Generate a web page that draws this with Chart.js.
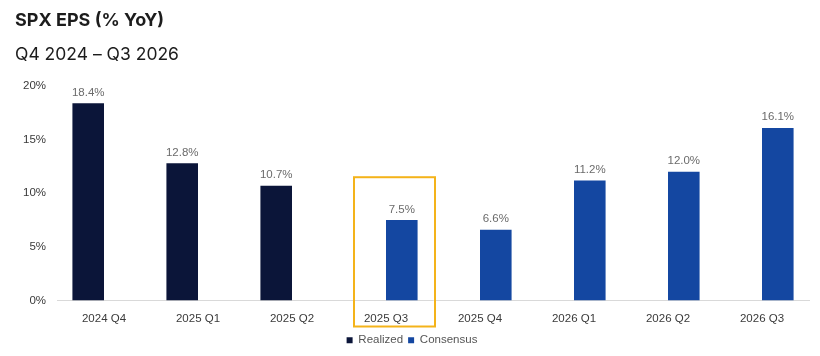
<!DOCTYPE html>
<html>
<head>
<meta charset="utf-8">
<script src="https://cdn.jsdelivr.net/npm/chart.js@4.4.1/dist/chart.umd.min.js"></script>
<style>
  html, body { margin: 0; padding: 0; background: #ffffff; }
  #wrap { width: 820px; height: 356px; position: relative; }
</style>
</head>
<body>
<div id="wrap"><canvas id="c" width="820" height="356"></canvas></div>
<script>
const titleText = 'SPX EPS (% YoY)';
const subtitleText = 'Q4 2024 – Q3 2026';
const categories = ['2024 Q4', '2025 Q1', '2025 Q2', '2025 Q3', '2025 Q4', '2026 Q1', '2026 Q2', '2026 Q3'];
const realized = [18.4, 12.8, 10.7, null, null, null, null, null];
const consensus = [null, null, null, 7.5, 6.6, 11.2, 12.0, 16.1];
const seriesNames = ['Realized', 'Consensus'];
const yMin = 0, yMax = 20, yStep = 5;
const highlightIndex = 3;

const labelFont = '"Liberation Sans", Arial, Helvetica, sans-serif';

const valueLabels = {
  id: 'valueLabels',
  afterDatasetsDraw(chart) {
    const ctx = chart.ctx;
    ctx.save();
    ctx.font = '11.5px ' + labelFont;
    ctx.fillStyle = '#6b6b6b';
    ctx.textAlign = 'center';
    ctx.textBaseline = 'bottom';
    chart.data.datasets.forEach((ds, di) => {
      const meta = chart.getDatasetMeta(di);
      meta.data.forEach((el, i) => {
        const v = ds.data[i];
        if (v === null || v === undefined) return;
        ctx.fillText(v.toFixed(1) + '%', el.x, el.y - 5);
      });
    });
    ctx.restore();
  }
};

const highlightBox = {
  id: 'highlightBox',
  afterDraw(chart) {
    const x = chart.scales.x, y = chart.scales.y;
    const c = x.getPixelForValue(highlightIndex);
    const left = c - 32, right = c + 49;
    const top = y.getPixelForValue(11.5);
    const bottom = chart.chartArea.bottom + 26;
    const ctx = chart.ctx;
    ctx.save();
    ctx.strokeStyle = '#F4B31A';
    ctx.lineWidth = 2;
    ctx.strokeRect(left, top, right - left, bottom - top);
    ctx.restore();
  }
};

new Chart(document.getElementById('c'), {
  type: 'bar',
  data: {
    labels: categories,
    datasets: [
      { label: seriesNames[0], data: realized, backgroundColor: '#0B1539', categoryPercentage: 0.672, barPercentage: 1.0 },
      { label: seriesNames[1], data: consensus, backgroundColor: '#1447A1', categoryPercentage: 0.672, barPercentage: 1.0 }
    ]
  },
  options: {
    responsive: false,
    animation: false,
    layout: { padding: { left: 15, right: 11, top: 0, bottom: 0 } },
    plugins: {
      tooltip: { enabled: false },
      title: {
        display: true, text: titleText, align: 'start', color: '#1c1c1c',
        font: { family: 'Inter, "Liberation Sans", sans-serif', size: 18, weight: 'bold', lineHeight: 1.2 },
        padding: { top: 9.5, bottom: 13.5 }
      },
      subtitle: {
        display: true, text: subtitleText, align: 'start', color: '#1c1c1c',
        font: { family: 'Inter, "Liberation Sans", sans-serif', size: 17.5, weight: 'normal', lineHeight: 1.2 },
        padding: { top: 0, bottom: 20.5 }
      },
      legend: {
        position: 'bottom',
        labels: {
          boxWidth: 6, boxHeight: 6, padding: 5, color: '#555555',
          font: { family: labelFont, size: 11.5 }
        }
      }
    },
    scales: {
      x: {
        grid: { display: false, drawTicks: false },
        border: { display: true, color: '#d9d9d9', width: 1 },
        afterFit(axis) { axis.height = 29; },
        ticks: { color: '#3a3a3a', padding: 11, font: { family: labelFont, size: 11.5 } }
      },
      y: {
        min: yMin, max: yMax,
        grid: { display: false, drawTicks: false },
        border: { display: false },
        afterFit(axis) { axis.width = 42; },
        ticks: { stepSize: yStep, color: '#3a3a3a', padding: 11, font: { family: labelFont, size: 11.5 },
                 callback: (v) => v + '%' }
      }
    }
  },
  plugins: [valueLabels, highlightBox]
});
</script>
</body>
</html>
